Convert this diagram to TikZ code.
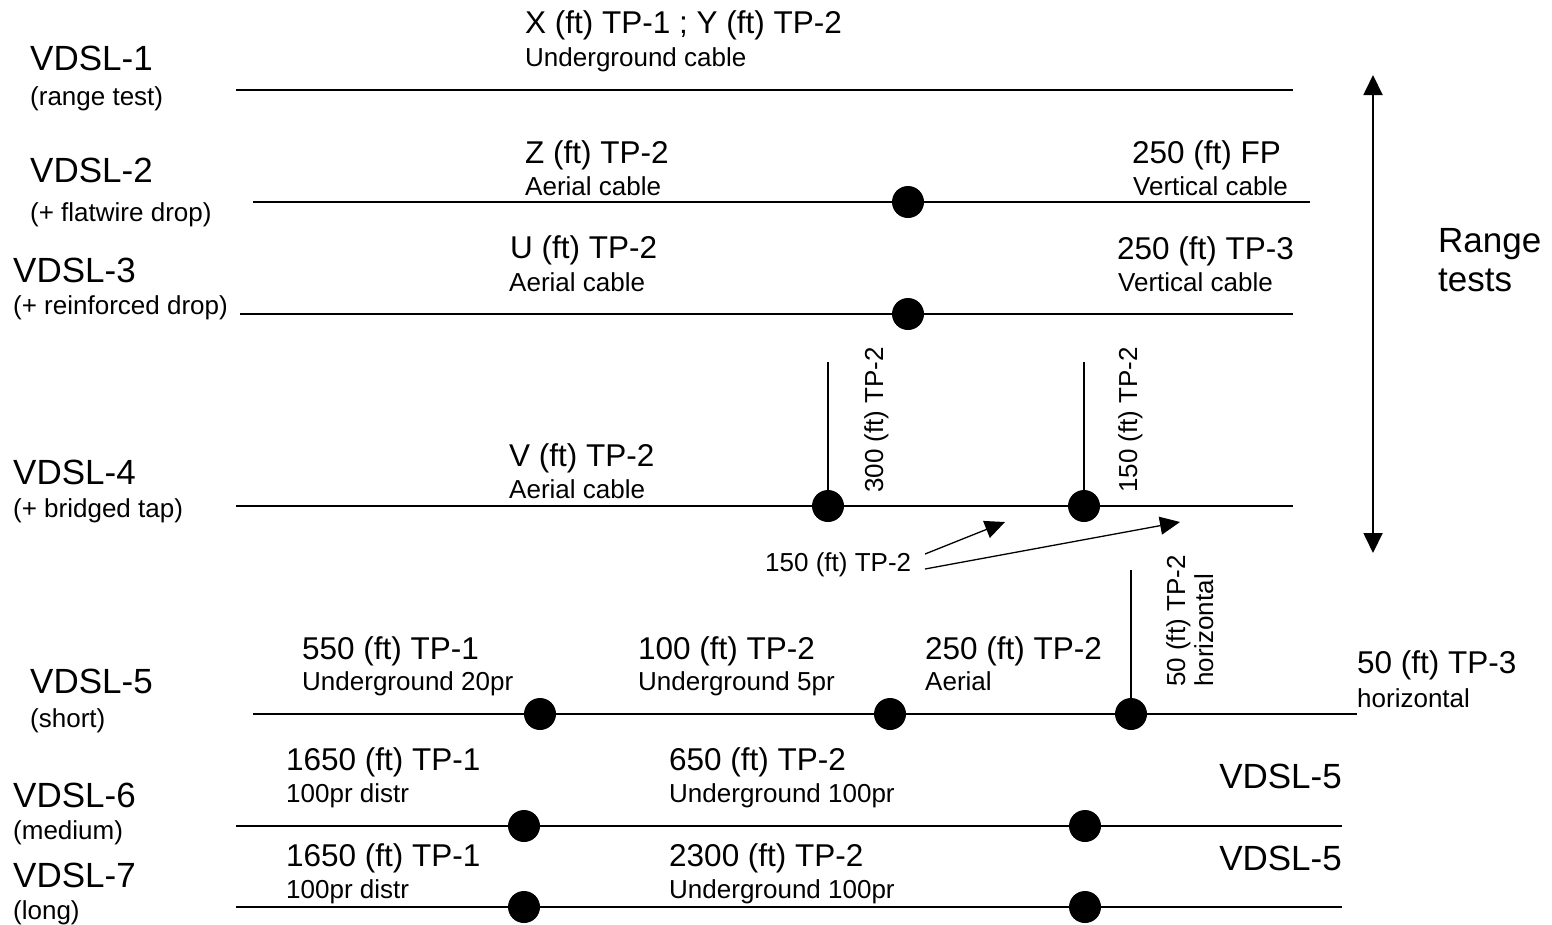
\documentclass[tikz,border=0pt]{standalone}
\usepackage{fontspec}
\setmainfont{Liberation Sans}
\usetikzlibrary{arrows.meta}
\begin{document}
\begin{tikzpicture}[x=1pt,y=-1pt,
  wire/.style={line width=1.8pt},
  dotnode/.style={circle,fill=black,inner sep=0pt,minimum size=32pt},
  big/.style={anchor=base west,inner sep=0pt,font=\fontsize{35}{40}\selectfont},
  mid/.style={anchor=base west,inner sep=0pt,font=\fontsize{31.5}{36}\selectfont},
  small/.style={anchor=base west,inner sep=0pt,font=\fontsize{26}{30}\selectfont},
  tipline/.style={-{Triangle[length=20pt,width=18pt]}, line width=1.3pt},
]
\useasboundingbox (0,0) rectangle (1552,924);

% left labels
\node[big] (l1) at (30,70) {VDSL-1};
\node[small] (l1s) at (30,105) {(range test)};
\node[big] (l2) at (30,182) {VDSL-2};
\node[small] (l2s) at (30,221) {(+ flatwire drop)};
\node[big] (l3) at (13,282) {VDSL-3};
\node[small] (l3s) at (13,314) {(+ reinforced drop)};
\node[big] (l4) at (13,484) {VDSL-4};
\node[small] (l4s) at (13,517) {(+ bridged tap)};
\node[big] (l5) at (30,693) {VDSL-5};
\node[small] (l5s) at (30,727) {(short)};
\node[big] (l6) at (13,807) {VDSL-6};
\node[small] (l6s) at (13,839) {(medium)};
\node[big] (l7) at (13,887) {VDSL-7};
\node[small] (l7s) at (13,919) {(long)};

% line end points
\coordinate (r1a) at (236,90);  \coordinate (r1b) at (1293,90);
\coordinate (r2a) at (253,202); \coordinate (r2b) at (1310,202);
\coordinate (r3a) at (240,314); \coordinate (r3b) at (1293,314);
\coordinate (r4a) at (236,506); \coordinate (r4b) at (1293,506);
\coordinate (r5a) at (253,714); \coordinate (r5b) at (1357,714);
\coordinate (r6a) at (236,826); \coordinate (r6b) at (1342,826);
\coordinate (r7a) at (236,907); \coordinate (r7b) at (1342,907);
\coordinate (t4a) at (828,362); \coordinate (t4b) at (1084,362);
\coordinate (t5) at (1131,570);

\draw[wire] (r1a) -- (r1b);
\draw[wire] (r2a) -- (r2b);
\draw[wire] (r3a) -- (r3b);
\draw[wire] (r4a) -- (r4b);
\draw[wire] (r5a) -- (r5b);
\draw[wire] (r6a) -- (r6b);
\draw[wire] (r7a) -- (r7b);

% dots
\node[dotnode] (d2) at (908,202) {};
\node[dotnode] (d3) at (908,314) {};
\node[dotnode] (d4a) at (828,506) {};
\node[dotnode] (d4b) at (1084,506) {};
\node[dotnode] (d5a) at (540,714) {};
\node[dotnode] (d5b) at (890,714) {};
\node[dotnode] (d5c) at (1131,714) {};
\node[dotnode] (d6a) at (524,826) {};
\node[dotnode] (d6b) at (1085,826) {};
\node[dotnode] (d7a) at (524,907) {};
\node[dotnode] (d7b) at (1085,907) {};

\draw[wire] (t4a) -- (d4a.center);
\draw[wire] (t4b) -- (d4b.center);
\draw[wire] (t5) -- (d5c.center);

% segment texts
\node[mid] (s1) at (525,33) {X (ft) TP-1 ; Y (ft) TP-2};
\node[small] (s1d) at (525,66) {Underground cable};
\node[mid] (s2) at (525,163) {Z (ft) TP-2};
\node[small] (s2d) at (525,195) {Aerial cable};
\node[mid] (s2r) at (1132,163) {250 (ft) FP};
\node[small] (s2rd) at (1133,195) {Vertical cable};
\node[mid] (s3) at (510,258) {U (ft) TP-2};
\node[small] (s3d) at (509,291) {Aerial cable};
\node[mid] (s3r) at (1117,259) {250 (ft) TP-3};
\node[small] (s3rd) at (1118,291) {Vertical cable};
\node[mid] (s4) at (509,466) {V (ft) TP-2};
\node[small] (s4d) at (509,498) {Aerial cable};
\node[small,rotate=90] (v1) at (883,493) {300 (ft) TP-2};
\node[small,rotate=90] (v2) at (1137,493) {150 (ft) TP-2};
\node[small] (al) at (765,571) {150 (ft) TP-2};
\node[small,rotate=90] (v3) at (1185,687) {50 (ft) TP-2};
\node[small,rotate=90] (v3d) at (1213,687) {horizontal};

\node[mid] (s5a) at (302,659) {550 (ft) TP-1};
\node[small] (s5ad) at (302,690) {Underground 20pr};
\node[mid] (s5b) at (638,659) {100 (ft) TP-2};
\node[small] (s5bd) at (638,690) {Underground 5pr};
\node[mid] (s5c) at (925,659) {250 (ft) TP-2};
\node[small] (s5cd) at (925,690) {Aerial};
\node[mid] (s5e) at (1357,673) {50 (ft) TP-3};
\node[small] (s5ed) at (1357,707) {horizontal};

\node[mid] (s6a) at (286,770) {1650 (ft) TP-1};
\node[small] (s6ad) at (286,802) {100pr distr};
\node[mid] (s6b) at (669,770) {650 (ft) TP-2};
\node[small] (s6bd) at (669,802) {Underground 100pr};
\node[big,anchor=base east] (s6c) at (1342,788) {VDSL-5};

\node[mid] (s7a) at (286,866) {1650 (ft) TP-1};
\node[small] (s7ad) at (286,898) {100pr distr};
\node[mid] (s7b) at (669,866) {2300 (ft) TP-2};
\node[small] (s7bd) at (669,898) {Underground 100pr};
\node[big,anchor=base east] (s7c) at (1342,870) {VDSL-5};

% range tests
\node[big] (rg1) at (1438,252) {Range};
\node[big] (rg2) at (1438,291) {tests};
\coordinate (rt) at (1373,75);
\coordinate (rb) at (1373,553);
\draw[line width=1.8pt,{Triangle[length=20pt,width=19pt]}-{Triangle[length=20pt,width=19pt]}] (rt) -- (rb);

% bridged-tap arrows
\coordinate (a1s) at (925,554); \coordinate (a1t) at (1005,522);
\coordinate (a2s) at (925,569); \coordinate (a2t) at (1180,522);
\draw[tipline] (a1s) -- (a1t);
\draw[tipline] (a2s) -- (a2t);
\end{tikzpicture}
\end{document}
